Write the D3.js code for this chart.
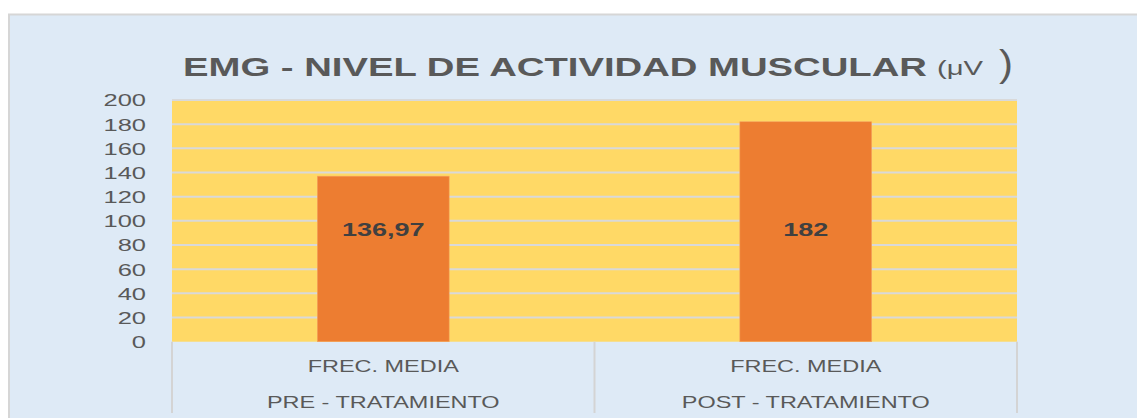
<!DOCTYPE html>
<html>
<head>
<meta charset="utf-8">
<script src="https://cdn.jsdelivr.net/npm/d3@7"></script>
<style>
  html, body { margin: 0; padding: 0; background: #ffffff; }
  svg { display: block; }
  text { font-family: "Liberation Sans", Arial, sans-serif; }
</style>
</head>
<body>
<script>
// ---- data ----
const categoryLine1 = ["FREC. MEDIA", "FREC. MEDIA"];
const categoryLine2 = ["PRE - TRATAMIENTO", "POST - TRATAMIENTO"];
const values = [136.97, 182];
const valueLabels = ["136,97", "182"];
const yTicks = [0, 20, 40, 60, 80, 100, 120, 140, 160, 180, 200];
const titleMain = "EMG - NIVEL DE ACTIVIDAD MUSCULAR";
const titleUnit = "(μV";
const titleClose = ")";

// ---- layout ----
const W = 1137, H = 418;
const plot = { left: 172, right: 1017, top: 100, bottom: 341.7 };
const textColor = "#595959";

const svg = d3.select("body").append("svg").attr("width", W).attr("height", H);

// chart background with border
svg.append("rect").attr("x", 8).attr("y", 14).attr("width", W - 8).attr("height", H - 14)
  .attr("fill", "#DEEAF6");
svg.append("line").attr("x1", 8).attr("x2", W).attr("y1", 14.5).attr("y2", 14.5)
  .attr("stroke", "#D6D6D6").attr("stroke-width", 2);
svg.append("line").attr("x1", 9).attr("x2", 9).attr("y1", 14).attr("y2", H)
  .attr("stroke", "#D6D6D6").attr("stroke-width", 2);

const keys = categoryLine2.map((d, i) => i);
const x = d3.scaleBand().domain(keys).range([plot.left, plot.right]).padding(0);
const y = d3.scaleLinear().domain([0, 200]).range([plot.bottom, plot.top]);

// plot area
svg.append("rect").attr("x", plot.left).attr("y", y(200))
  .attr("width", plot.right - plot.left).attr("height", y(0) - y(200))
  .attr("fill", "#FFD966");

// gridlines
svg.append("g").selectAll("line").data(yTicks.filter(d => d > 0)).join("line")
  .attr("x1", plot.left).attr("x2", plot.right)
  .attr("y1", d => y(d)).attr("y2", d => y(d))
  .attr("stroke", "#D9D9D9").attr("stroke-width", 2);

// bars
const barFrac = 0.312;
svg.append("g").selectAll("rect").data(values).join("rect")
  .attr("x", (d, i) => x(i) + x.bandwidth() * (1 - barFrac) / 2)
  .attr("width", x.bandwidth() * barFrac)
  .attr("y", d => y(d))
  .attr("height", d => y(0) - y(d))
  .attr("fill", "#ED7D31")
  .attr("stroke", "#F4A460").attr("stroke-width", 0.6);

// y axis tick labels
const yAxis = d3.axisLeft(y).tickValues(yTicks).tickSize(0).tickPadding(0);
const yg = svg.append("g").attr("transform", `translate(${146},0)`).call(yAxis);
yg.select(".domain").remove();
yg.selectAll("text")
  .attr("x", null).attr("dy", null)
  .attr("fill", textColor)
  .attr("font-size", 17)
  .attr("font-family", "Liberation Sans, Arial, sans-serif")
  .attr("text-anchor", "end")
  .attr("dominant-baseline", "central")
  .attr("transform", function () {
    const t = d3.select(this.parentNode).attr("transform");
    return "scale(1.5,1)";
  })
  .each(function () { d3.select(this).attr("y", 0); });
// keep parent tick translation; apply horizontal stretch anchored at x=0 of tick group
yg.selectAll(".tick text").attr("transform", "scale(1.5,1)");

// category axis cell separators
const sepX = [x(0), x(1), x(1) + x.bandwidth()];
svg.append("g").selectAll("line").data(sepX).join("line")
  .attr("x1", d => d).attr("x2", d => d)
  .attr("y1", y(0)).attr("y2", 413)
  .attr("stroke", "#D4D4D4").attr("stroke-width", 2);

// category labels
const cg = svg.append("g");
keys.forEach(i => {
  const cx = x(i) + x.bandwidth() / 2;
  cg.append("text").attr("transform", `translate(${cx},372) scale(1.38,1)`)
    .attr("text-anchor", "middle").attr("font-size", 17).attr("fill", textColor)
    .text(categoryLine1[i]);
  cg.append("text").attr("transform", `translate(${cx},408) scale(1.38,1)`)
    .attr("text-anchor", "middle").attr("font-size", 17).attr("fill", textColor)
    .text(categoryLine2[i]);
});

// value labels
const labelLevel = 93;
svg.append("g").selectAll("text").data(values).join("text")
  .attr("transform", (d, i) => `translate(${x(i) + x.bandwidth() / 2},${y(labelLevel)}) scale(1.5,1)`)
  .attr("text-anchor", "middle").attr("dominant-baseline", "central")
  .attr("font-size", 18).attr("font-weight", "bold").attr("fill", "#404040")
  .text((d, i) => valueLabels[i]);

// title
svg.append("text").attr("x", 183).attr("y", 76)
  .attr("font-size", 25).attr("font-weight", "bold").attr("fill", textColor)
  .attr("textLength", 744).attr("lengthAdjust", "spacingAndGlyphs")
  .text(titleMain);
svg.append("text").attr("x", 937).attr("y", 75)
  .attr("font-size", 21).attr("fill", textColor)
  .attr("textLength", 46).attr("lengthAdjust", "spacingAndGlyphs")
  .text(titleUnit);
svg.append("text").attr("x", 999).attr("y", 76)
  .attr("font-size", 36).attr("fill", textColor)
  .attr("textLength", 14).attr("lengthAdjust", "spacingAndGlyphs")
  .text(titleClose);
</script>
</body>
</html>
